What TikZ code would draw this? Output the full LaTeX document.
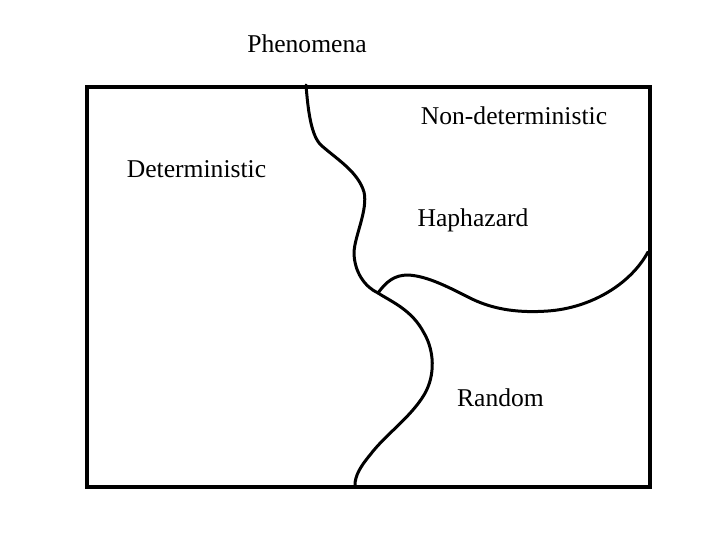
\documentclass[tikz,border=0pt]{standalone}
\usepackage{fontspec}
\setmainfont{Liberation Serif}
\begin{document}
\begin{tikzpicture}[x=1pt,y=-1pt,
  lbl/.style={anchor=base,inner sep=0pt,font=\fontsize{25.6}{30}\selectfont},
  frame/.style={line width=3.6pt},
  border/.style={line width=3pt,line cap=round,line join=round}]
\useasboundingbox (0,0) rectangle (720,540);
\node[draw,frame,minimum width=563pt,minimum height=400pt,inner sep=0pt,anchor=north west] (box) at (85,85) {};
\node[lbl] (phen) at (307,53) {Phenomena};
\node[lbl] (nondet) at (514,125) {Non-deterministic};
\node[lbl] (det) at (196.5,178) {Deterministic};
\node[lbl] (hap) at (473,226) {Haphazard};
\node[lbl] (rand) at (500.5,406) {Random};
\coordinate (t) at (306,85);
\coordinate (b) at (355,485);
\coordinate (j) at (378,293);
\coordinate (r) at (648,252);
\draw[border] (t) .. controls (308,110) and (311,137) .. (322,146)
  .. controls (338,160) and (358,172) .. (364,192)
  .. controls (368,210) and (355,235) .. (354,252)
  .. controls (354,272) and (365,287) .. (j)
  .. controls (392,302) and (412,310) .. (424,333)
  .. controls (434,350) and (436,375) .. (424,395)
  .. controls (410,418) and (385,435) .. (370,455)
  .. controls (360,467) and (355,476) .. (b);
\draw[border] (j) .. controls (386,282) and (394,275) .. (408,275)
  .. controls (428,276) and (450,288) .. (472,299)
  .. controls (495,310) and (520,313) .. (548,311)
  .. controls (590,308) and (630,285) .. (r);
\end{tikzpicture}
\end{document}
